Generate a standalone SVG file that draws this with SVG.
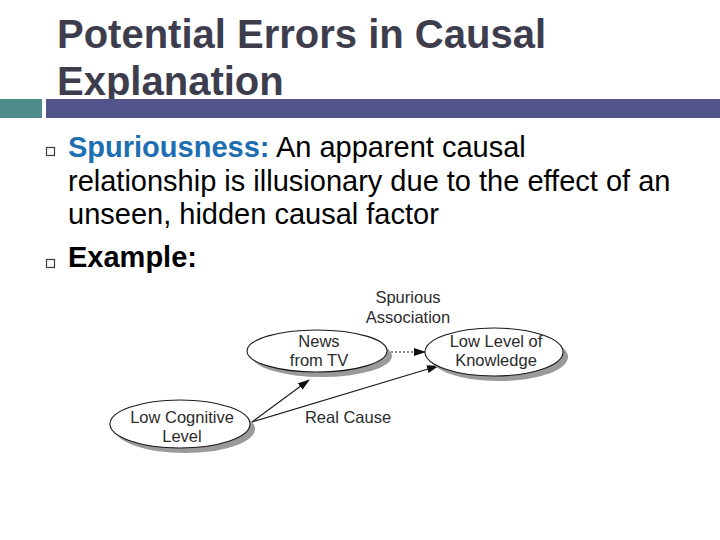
<svg xmlns="http://www.w3.org/2000/svg" width="720" height="540" viewBox="0 0 720 540">
  <style>
    .title { font-family: "Liberation Sans", Arial, sans-serif; font-weight: bold; font-size: 40px; fill: #3d3d4e; }
    .body { font-family: "Liberation Sans", Arial, sans-serif; font-size: 29px; fill: #000; }
    .bold { font-weight: bold; }
    .blue { fill: #1d6fb1; }
    .bullet { fill: #fff; stroke: #3a3a3a; stroke-width: 1.2; }
    .lbl { font-family: "Liberation Sans", Arial, sans-serif; font-size: 16.5px; fill: #2b2b2b; text-anchor: middle; }
    .node { fill: #fff; stroke: #1a1a1a; stroke-width: 1.1; }
    .shadow { fill: #9a9a9a; }
    .edge { stroke: #1a1a1a; stroke-width: 1.1; fill: none; }
    .dotted { stroke-dasharray: 2 2; }
  </style>
  <defs>
    <marker id="arrow" viewBox="0 0 12 8" refX="11" refY="4" markerWidth="12" markerHeight="8" markerUnits="userSpaceOnUse" orient="auto">
      <path d="M0,0 L12,4 L0,8 Z" fill="#111"/>
    </marker>
  </defs>
  <rect width="720" height="540" fill="#fff"/>

  <g id="title">
    <text class="title" x="57" y="48">Potential Errors in Causal</text>
    <text class="title" x="57" y="95">Explanation</text>
  </g>
  <g id="header-bar">
    <rect x="0" y="99" width="42" height="19" fill="#4e8b8b"/>
    <rect x="46" y="99" width="674" height="19" fill="#53548a"/>
  </g>

  <g id="bullets">
    <rect class="bullet" x="46.5" y="147.5" width="8" height="8"/>
    <text class="body" x="68" y="157"><tspan class="bold blue">Spuriousness:</tspan> An apparent causal</text>
    <text class="body" x="68" y="191">relationship is illusionary due to the effect of an</text>
    <text class="body" x="68" y="224">unseen, hidden causal factor</text>
    <rect class="bullet" x="46.5" y="259.5" width="8" height="8"/>
    <text class="body bold" x="68" y="267">Example:</text>
  </g>

  <g id="connectors">
    <line class="edge dotted" x1="387" y1="352" x2="425" y2="352" marker-end="url(#arrow)"/>
    <line class="edge" x1="252" y1="422" x2="309" y2="380" marker-end="url(#arrow)"/>
    <line class="edge" x1="252" y1="422" x2="438" y2="366" marker-end="url(#arrow)"/>
    <text class="lbl" x="408" y="303">Spurious</text>
    <text class="lbl" x="408" y="323">Association</text>
    <text class="lbl" x="348" y="423">Real Cause</text>
  </g>

  <g id="node-news">
    <ellipse class="shadow" cx="322" cy="356" rx="70" ry="21"/>
    <ellipse class="node" cx="317" cy="351" rx="70" ry="21"/>
    <text class="lbl" x="319" y="347">News</text>
    <text class="lbl" x="319" y="366">from TV</text>
  </g>

  <g id="node-knowledge">
    <ellipse class="shadow" cx="499" cy="357" rx="69" ry="24"/>
    <ellipse class="node" cx="494" cy="352" rx="69" ry="24"/>
    <text class="lbl" x="496" y="347">Low Level of</text>
    <text class="lbl" x="496" y="366">Knowledge</text>
  </g>

  <g id="node-cognitive">
    <ellipse class="shadow" cx="185" cy="429" rx="70" ry="24"/>
    <ellipse class="node" cx="180" cy="424" rx="70" ry="24"/>
    <text class="lbl" x="182" y="423">Low Cognitive</text>
    <text class="lbl" x="182" y="442">Level</text>
  </g>
</svg>
